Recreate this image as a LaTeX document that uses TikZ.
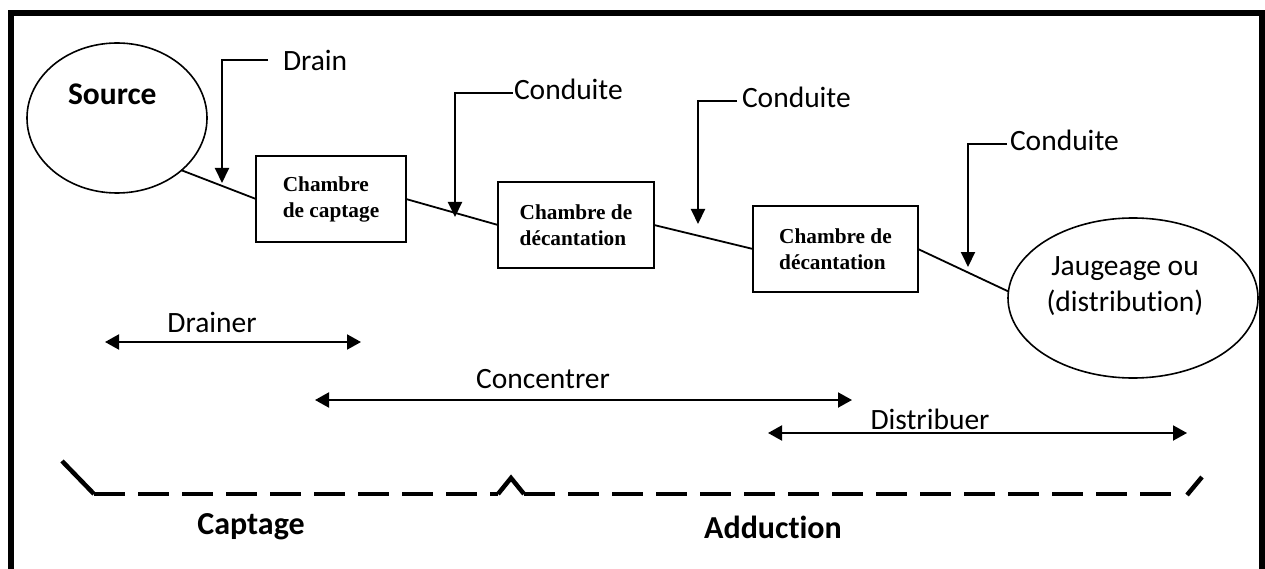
\documentclass[tikz,border=0pt]{standalone}
\usepackage{fontspec}
\setmainfont[Ligatures=NoCommon]{Carlito}
\newfontfamily\tnr{Liberation Serif}
\usetikzlibrary{arrows.meta,shapes.geometric}
\begin{document}
\begin{tikzpicture}[x=1pt,y=-1pt,
  every node/.style={inner sep=0pt, outer sep=0pt},
  oval/.style={draw, line width=1.6pt, ellipse, inner sep=0pt},
  chamber/.style={draw, line width=1.8pt, minimum height=86pt, align=left,
    font=\tnr\bfseries\fontsize{21.3}{26}\selectfont},
  lbl/.style={font=\fontsize{29.5}{35}\selectfont},
  blbl/.style={font=\bfseries\fontsize{32}{38}\selectfont},
  pipe/.style={line width=1.8pt},
  callout/.style={line width=2pt, -{Triangle[length=15pt,width=14pt]}},
  span/.style={line width=2pt, {Triangle[length=14pt,width=15pt]}-{Triangle[length=14pt,width=15pt]}},
  bracket/.style={line width=4.5pt},
  brdash/.style={line width=4.5pt, dash pattern=on 31pt off 13pt}
]
\useasboundingbox (0,0) rectangle (1265,569);
% frame
\draw[line width=6pt, line join=miter] (11,569) -- (11,13) -- (1262,13) -- (1262,569);

% main chain
\node[oval, minimum width=180pt, minimum height=150pt] (src) at (117,118) {};
\node[blbl, font=\bfseries\fontsize{31.5}{37}\selectfont, anchor=base west] (srctxt) at (68,105) {Source};
\node[chamber, minimum width=150pt] (ch1) at (331,199) {Chambre\\de captage};
\node[chamber, minimum width=156pt] (ch2) at (576,225) {Chambre de\\décantation};
\node[chamber, minimum width=165pt] (ch3) at (835.5,249) {Chambre de\\décantation};
\node[oval, minimum width=250pt, minimum height=160pt] (jau) at (1133,298) {};
\node[lbl, anchor=base] (jau1) at (1125,276) {Jaugeage ou};
\node[lbl, anchor=base] (jau2) at (1125,311) {(distribution)};

\draw[pipe] (src.-39) -- (ch1.west);
\draw[pipe] (ch1.east) -- (ch2.west);
\draw[pipe] (ch2.east) -- (ch3.west);
\draw[pipe] (ch3.east) -- (jau.177);

% callouts
\coordinate (d0) at (268,60); \coordinate (dt) at (222,183);
\draw[callout] (d0) -| (dt);
\node[lbl, anchor=base west] (drain) at (283,71) {Drain};

\coordinate (c10) at (513,93); \coordinate (c1t) at (455,217);
\draw[callout] (c10) -| (c1t);
\node[lbl, anchor=base west] (cond1) at (514,100) {Conduite};

\coordinate (c20) at (737,101); \coordinate (c2t) at (698,224);
\draw[callout] (c20) -| (c2t);
\node[lbl, anchor=base west] (cond2) at (742,108) {Conduite};

\coordinate (c30) at (1007,144); \coordinate (c3t) at (968,267);
\draw[callout] (c30) -| (c3t);
\node[lbl, anchor=base west] (cond3) at (1010,151) {Conduite};

% spans
\coordinate (dr1) at (105,342); \coordinate (dr2) at (361,342);
\draw[span] (dr1) -- (dr2);
\node[lbl, anchor=base] (drainer) at (212,332) {Drainer};

\coordinate (co1) at (315,400); \coordinate (co2) at (852,400);
\draw[span] (co1) -- (co2);
\node[lbl, anchor=base] (concentrer) at (543,388) {Concentrer};

\coordinate (di1) at (768,433); \coordinate (di2) at (1187,433);
\draw[span] (di1) -- (di2);
\node[lbl, anchor=base] (distribuer) at (930,429) {Distribuer};

% bracket
\draw[bracket] (62,461) -- (94,494);
\draw[brdash] (94,494) -- (498,494);
\draw[bracket, line join=miter] (498,494) -- (511,478) -- (524,494);
\draw[brdash] (524,494) -- (1182,494);
\draw[bracket] (1187,495) -- (1202,477);
\node[blbl, anchor=base] (captage) at (251,534) {Captage};
\node[blbl, anchor=base] (adduction) at (773,538) {Adduction};
\end{tikzpicture}
\end{document}
